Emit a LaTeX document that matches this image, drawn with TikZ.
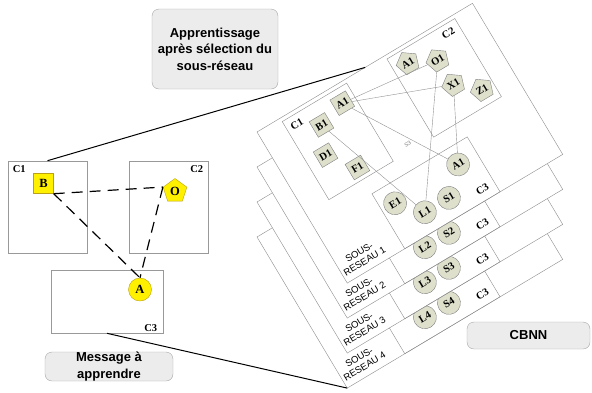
\documentclass[tikz,border=0pt]{standalone}
\usepackage{fontspec}
\setmainfont{Liberation Serif}
\setsansfont{Liberation Sans}
\usetikzlibrary{shapes.geometric,positioning}

\definecolor{nodefill}{RGB}{222,224,204}
\definecolor{hiyellow}{RGB}{255,240,0}
\definecolor{goldline}{RGB}{185,160,20}
\definecolor{boxfill}{RGB}{236,236,236}

\begin{document}
\begin{tikzpicture}[
    x=1pt, y=-1pt,
    %---- planes of the stack ----
    plane/.style    = {draw=gray!90, fill=white, line width=0.4pt},
    grp/.style      = {draw=gray!90, line width=0.4pt},
    grplabel/.style = {inner sep=0pt, font=\fontsize{10.5}{11}\selectfont\bfseries},
    netlabel/.style = {inner sep=0pt, align=center, font=\sffamily\fontsize{9.5}{10.5}\selectfont},
    smalllabel/.style = {inner sep=0pt, text=gray, font=\sffamily\fontsize{5.5}{6}\selectfont},
    sqnode/.style   = {rectangle, draw=gray, fill=nodefill, minimum size=18pt, inner sep=0pt,
                       font=\fontsize{10.5}{10.5}\selectfont\bfseries},
    pentnode/.style = {regular polygon, regular polygon sides=5, draw=gray, fill=nodefill,
                       minimum size=24pt, inner sep=0pt, font=\fontsize{10.5}{10.5}\selectfont\bfseries},
    circnode/.style = {circle, draw=gray, fill=nodefill, minimum size=23pt, inner sep=0pt,
                       font=\fontsize{10.5}{10.5}\selectfont\bfseries},
    link/.style     = {draw=gray!85, line width=0.4pt},
    %---- message on the left ----
    lbox/.style     = {rectangle, draw=gray!80, line width=0.6pt},
    ylw/.style      = {draw=goldline, fill=hiyellow, inner sep=0pt, font=\fontsize{12.5}{12.5}\selectfont\bfseries},
    dashlink/.style = {line width=1.2pt, dash pattern=on 11pt off 7pt},
    joinline/.style = {line width=1pt},
    rbox/.style     = {rectangle, rounded corners=7pt, draw=gray!70, fill=boxfill, align=center,
                       inner sep=0pt, font=\sffamily\bfseries\fontsize{13}{16.5}\selectfont},
]
\useasboundingbox (0,0) rectangle (592,392);

%---- SUB-NETWORK PLANES (back to front) ----
\foreach \p in {4,3,2,1}{
  \begin{scope}[shift={(257,{132+35*(\p-1)})}, rotate=30.85,
                every node/.append style={transform shape}]
    \draw[plane] (0,0) rectangle (251,176);
    \draw[grp] (67,112) rectangle (178,176);
    \node[circnode] (L\p) at (103,155) {L\p};
    \node[circnode] (S\p) at (131,155) {S\p};
    \node[grplabel] at (164,165) {C3};
    \node[netlabel] at (26,161) {SOUS-\\RESEAU \p};
    \coordinate (low\p) at (0,176);
  \end{scope}
}

%---- CONTENT OF SUB-NETWORK 1 ----
\begin{scope}[shift={(257,132)}, rotate=30.85,
              every node/.append style={transform shape}]
  \draw[grp] (27,4) rectangle (102,95);
  \draw[grp] (149,4) rectangle (228,95);
  \node[grplabel] at (38,14) {C1};
  \node[grplabel] at (215,13) {C2};
  \node[smalllabel] at (123,88) {S3};

  \node[sqnode] (sqB1) at (59,27) {B1};
  \node[sqnode] (sqA1) at (88,19) {A1};
  \node[sqnode] (sqD1) at (47,55) {D1};
  \node[sqnode] (sqF1) at (68,82) {F1};

  \node[pentnode] (pnA1) at (165,18) {A1};
  \node[pentnode] (pnO1) at (192,31) {O1};
  \node[pentnode] (pnX1) at (193,60) {X1};
  \node[pentnode] (pnZ1) at (215,79) {Z1};

  \node[circnode] (ciE1) at (82,132) {E1};
  \node[circnode] (ciA1) at (156,131) {A1};

  \coordinate (topjoin) at (126,0);

  \foreach \a/\b in {sqA1/pnO1, sqA1/pnX1, sqA1/ciA1, sqB1/L1, pnO1/L1, pnX1/ciA1}
    \draw[link] (\a) -- (\b);
\end{scope}

%---- MESSAGE TO LEARN ----
\node[lbox, minimum width=79pt, minimum height=92pt]  (boxC1) at (47.5,207) {};
\node[lbox, minimum width=79pt, minimum height=92pt]  (boxC2) at (168.5,207) {};
\node[lbox, minimum width=112pt, minimum height=63pt] (boxC3) at (107,301.5) {};
\node[grplabel, anchor=north west] at ([shift={(5,5)}]boxC1.north west) {C1};
\node[grplabel, anchor=north east] at ([shift={(-5,5)}]boxC2.north east) {C2};
\node[grplabel, anchor=south east] at ([shift={(-6,-2)}]boxC3.south east) {C3};

\node[ylw, rectangle, minimum size=20pt] (nB) at (43.5,183.5) {B};
\node[ylw, regular polygon, regular polygon sides=5, minimum size=25pt] (nO) at (175,191) {O};
\node[ylw, circle, minimum size=23pt] (nA) at (140,289.5) {A};

\draw[dashlink] (nB.south east) -- (nO.corner 2);
\draw[dashlink] (nB.south east) -- (nA.north);
\draw[dashlink] (nO.corner 2) -- (nA.north);

%---- CAPTIONS ----
\node[rbox, minimum width=126pt, minimum height=80pt] (learn) at (215,49)
     {Apprentissage\\après sélection du\\sous-réseau};
\node[rbox, minimum width=128pt, minimum height=29pt] (msg) at (109,366.5)
     {Message à\\apprendre};
\node[rbox, minimum width=123pt, minimum height=27pt] (cbnn) at (528.5,335.5) {CBNN};

%---- ZOOM LINES ----
\draw[joinline] (boxC1.north) -- (topjoin);
\draw[joinline] (boxC3.south) -- (low4);
\end{tikzpicture}
\end{document}
